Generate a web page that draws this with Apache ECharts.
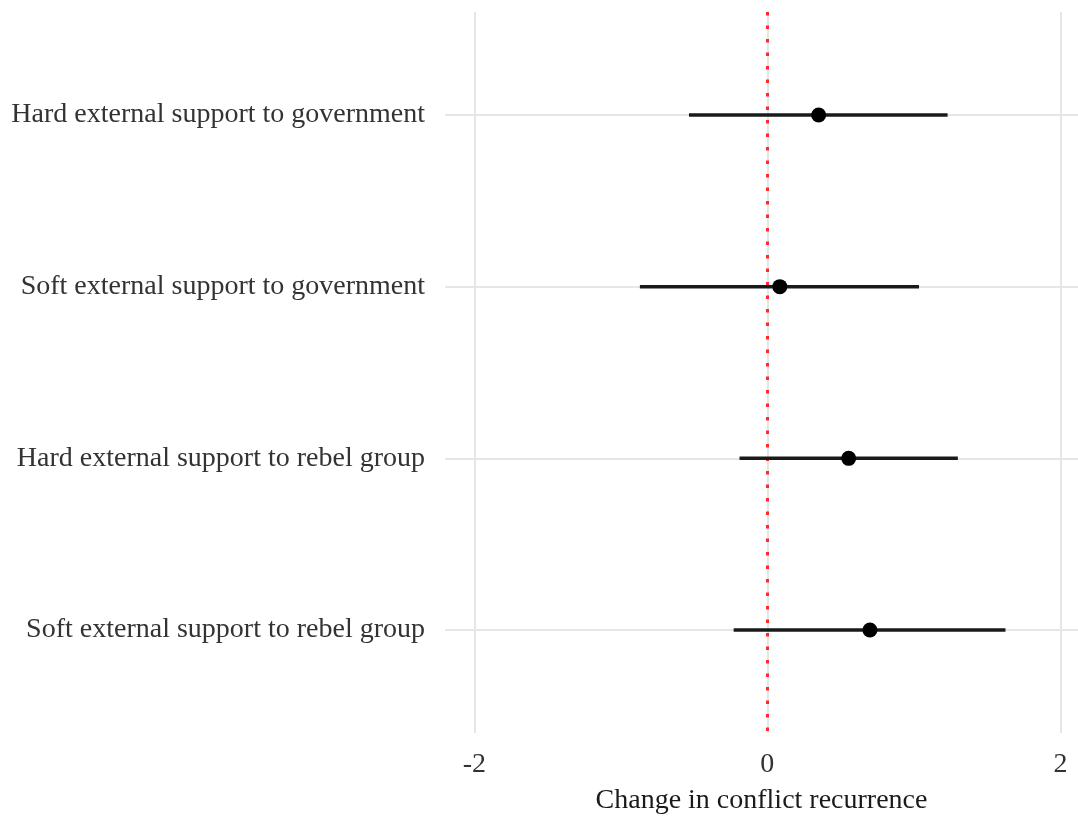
<!DOCTYPE html>
<html>
<head>
<meta charset="utf-8">
<script src="https://cdn.jsdelivr.net/npm/echarts@6/dist/echarts.min.js"></script>
<style>
  html, body { margin: 0; padding: 0; background: #fff; }
  #chart { width: 1078px; height: 820px; }
</style>
</head>
<body>
<div id="chart"></div>
<script>
// coefficient plot: estimate with confidence interval per support type
const categories = [
  'Hard external support to government',
  'Soft external support to government',
  'Hard external support to rebel group',
  'Soft external support to rebel group'
];
const estimates = [0.35, 0.085, 0.555, 0.70];
const lower = [-0.535, -0.87, -0.19, -0.23];
const upper = [1.23, 1.035, 1.30, 1.625];
const xTicks = [-2, 0, 2];
const rowTicks = [0, 1, 2, 3];

const chart = echarts.init(document.getElementById('chart'));
const font = 'Liberation Serif, Times New Roman, serif';
const gridColor = '#e6e6e6';

chart.setOption({
  animation: false,
  grid: { left: 445, right: 0, top: 12, bottom: 82 },
  xAxis: {
    type: 'value',
    min: -2.2,
    max: 2.12,
    name: 'Change in conflict recurrence',
    nameLocation: 'middle',
    nameGap: 54,
    nameTextStyle: { fontFamily: font, fontSize: 28, color: '#1a1a1a' },
    axisLine: { show: false },
    axisTick: { show: false, customValues: xTicks },
    axisLabel: {
      customValues: xTicks,
      margin: 18,
      fontFamily: font, fontSize: 28, color: '#333'
    },
    splitLine: { show: true, lineStyle: { color: gridColor, width: 2 } }
  },
  yAxis: {
    type: 'value',
    inverse: true,
    min: -0.6,
    max: 3.6,
    axisLine: { show: false },
    axisTick: { show: false, customValues: rowTicks },
    axisLabel: {
      customValues: rowTicks,
      margin: 20,
      fontFamily: font, fontSize: 28, color: '#333',
      formatter: v => categories[v] ?? ''
    },
    splitLine: { show: true, lineStyle: { color: gridColor, width: 2 } }
  },
  series: [
    {
      type: 'custom',
      renderItem: (params, api) => {
        const a = api.coord([api.value(0), api.value(2)]);
        const b = api.coord([api.value(1), api.value(2)]);
        return {
          type: 'line',
          shape: { x1: a[0], y1: a[1], x2: b[0], y2: b[1] },
          style: { stroke: '#1a1a1a', lineWidth: 3.5 }
        };
      },
      encode: { x: [0, 1], y: 2 },
      data: categories.map((c, i) => [lower[i], upper[i], i]),
      z: 3
    },
    {
      type: 'scatter',
      symbolSize: 15,
      itemStyle: { color: '#000', opacity: 1 },
      data: categories.map((c, i) => [estimates[i], i]),
      z: 4,
      markLine: {
        silent: true,
        symbol: 'none',
        label: { show: false },
        lineStyle: { color: '#ff2a2a', width: 3, type: [3.5, 10] },
        data: [{ xAxis: 0 }],
        z: 2
      }
    }
  ]
});
</script>
</body>
</html>
